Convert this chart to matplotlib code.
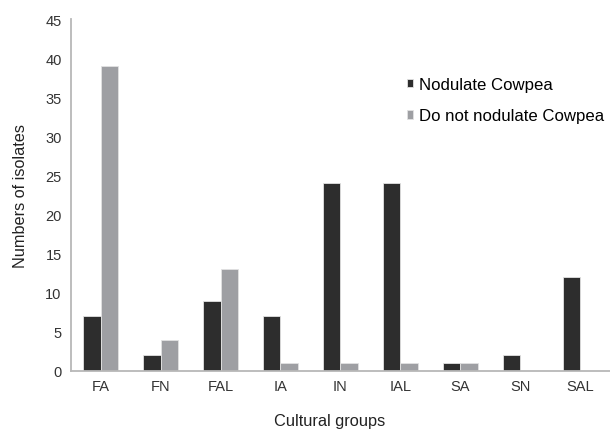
import matplotlib.pyplot as plt
import numpy as np

plt.rcParams['font.family'] = ['Liberation Sans', 'DejaVu Sans']

# cultural groups and isolate counts
groups = ['FA', 'FN', 'FAL', 'IA', 'IN', 'IAL', 'SA', 'SN', 'SAL']
nodulate = [7, 2, 9, 7, 24, 24, 1, 2, 12]
not_nodulate = [39, 4, 13, 1, 1, 1, 1, 0, 0]

fig = plt.figure(figsize=(6.1, 4.31), dpi=100)
ax_w = 610 - 70.7
ax_h = 352
ax = fig.add_axes([70.7 / 610, 59 / 431, ax_w / 610, ax_h / 431])

x = np.arange(len(groups))
w = 0.29
ax.bar(x - w / 2, nodulate, width=w, color='#2d2d2d', edgecolor='#e2e2e2',
       linewidth=0.6, label='Nodulate Cowpea')
ax.bar(x + w / 2, not_nodulate, width=w, color='#9e9fa3', edgecolor='#e2e2e2',
       linewidth=0.6, label='Do not nodulate Cowpea')

ax.set_xlim(-0.5, 8.5)
ax.set_ylim(0, 45)
ax.set_yticks(np.arange(0, 46, 5))
ax.set_xticks(x)
ax.set_xticklabels(groups)
ax.tick_params(length=0, labelsize=10.5, colors='#333333')
ax.tick_params(axis='x', pad=6)
ax.tick_params(axis='y', pad=6.5)

for s in ['top', 'right']:
    ax.spines[s].set_visible(False)
for s in ['left', 'bottom']:
    ax.spines[s].set_color('#b8b8b8')
    ax.spines[s].set_linewidth(1.3)

ax.set_ylabel('Numbers of isolates', fontsize=11.7, color='#222222', va='center')
ax.yaxis.set_label_coords((21 - 70.7) / ax_w, 0.5)
ax.set_xlabel('Cultural groups', fontsize=11.8, color='#222222', va='center')
ax.xaxis.set_label_coords((330 - 70.7) / ax_w, -(422 - 372) / ax_h)

ax.legend(loc='upper left', bbox_to_anchor=(407 / 610, 1 - 78 / 431),
          bbox_transform=fig.transFigure, frameon=False, fontsize=12.1,
          handlelength=0.38, handleheight=0.38, handletextpad=0.35,
          labelspacing=0.98, borderpad=0, borderaxespad=0)

plt.savefig('out.png', dpi=100)
